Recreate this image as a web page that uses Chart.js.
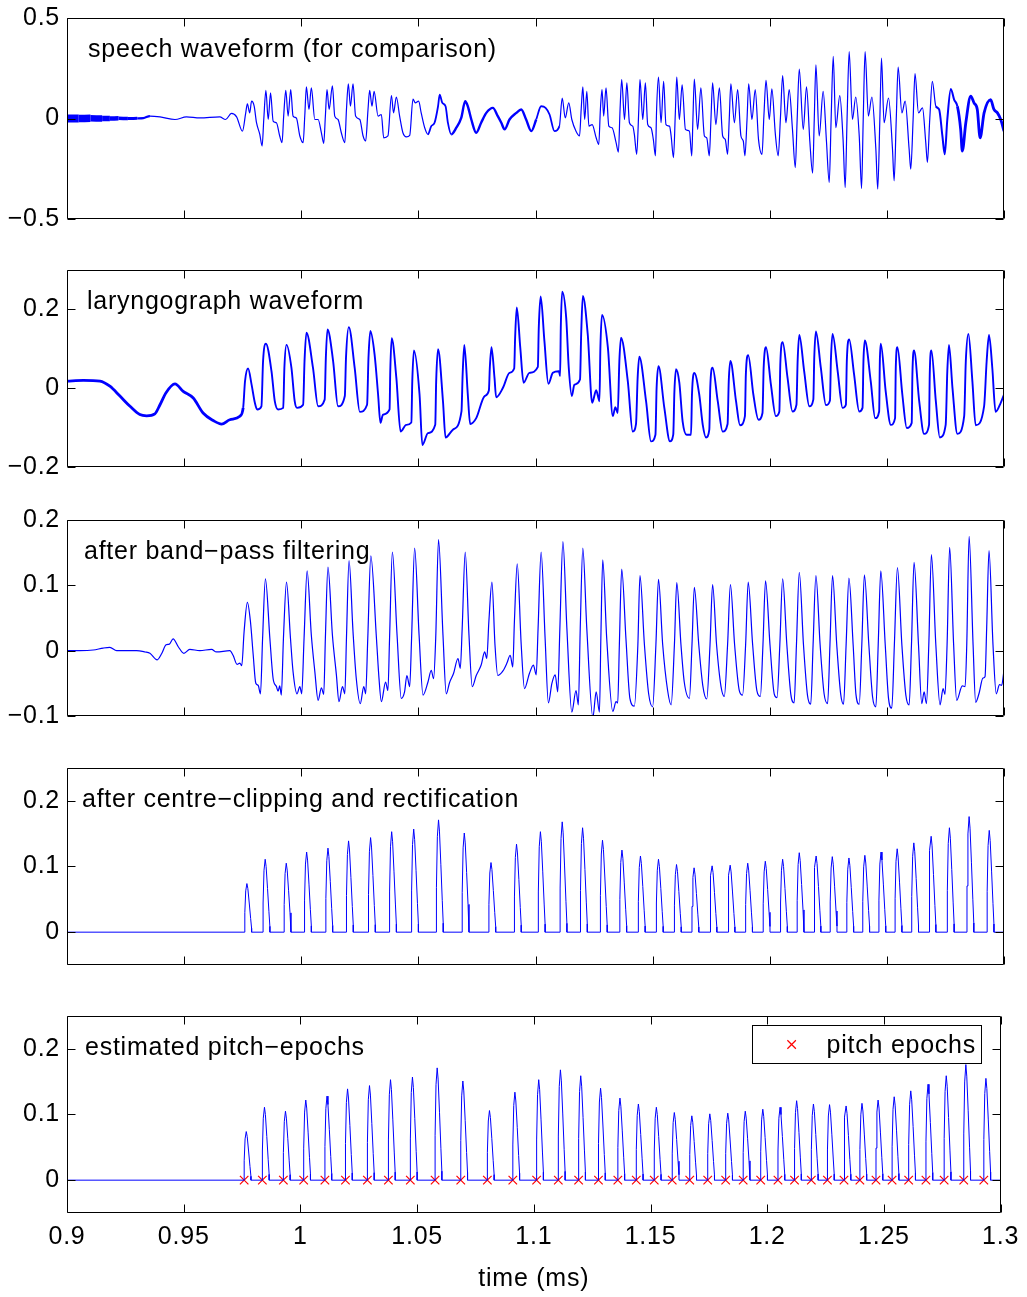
<!DOCTYPE html>
<html>
<head>
<meta charset="utf-8">
<title>Pitch-epoch estimation from the laryngograph signal</title>
<script src="https://cdn.jsdelivr.net/npm/chart.js@4.4.1/dist/chart.umd.min.js"></script>
<style>
  html, body { margin: 0; padding: 0; background: #fff; }
  #fig { position: relative; width: 1027px; height: 1297px; background: #fff; overflow: hidden; }
  #fig canvas { position: absolute; left: 0; }
</style>
</head>
<body>
<div id="fig"></div>
<script>
// ---------------------------------------------------------------------------
// Signals: [time, amplitude] vertices of each trace
// ---------------------------------------------------------------------------
const speechWave = [
  [0.9,0.0],[0.905,0.0],[0.91,0.001],[0.915,0.0],[0.9183,0.0],[0.922,0.001],[0.926,0.0],[0.93,0.001],[0.9326,0.002],
  [0.9354,0.012],[0.9397,0.008],[0.9461,-0.005],[0.9510,0.008],[0.9567,0.003],
  [0.9652,0.008],[0.9677,-0.005],[0.9702,0.025],[0.9724,0.008],[0.9749,-0.063],[0.9763,0.028],[0.9770,0.073],[0.9780,0.028],
  [0.9788,0.086],[0.9799,0.061],[0.9809,-0.021],[0.9823,-0.079],[0.9833,-0.137],[0.9840,-0.005],[0.9849,0.140],[0.9859,-0.005],
  [0.9869,0.127],[0.9880,-0.013],[0.9894,-0.021],[0.9908,-0.087],[0.9918,-0.120],[0.9925,0.012],[0.9934,0.140],[0.9944,0.012],
  [0.9955,0.144],[0.9965,0.012],[0.9979,0.003],[0.9994,-0.087],[1.0008,-0.120],[1.0015,0.012],[1.0022,0.157],[1.0033,0.045],
  [1.0043,0.152],[1.0058,-0.005],[1.0072,-0.005],[1.0086,-0.071],[1.0096,-0.124],[1.0103,0.012],[1.0110,0.144],[1.0119,0.045],
  [1.0133,0.163],[1.0143,0.012],[1.0157,-0.005],[1.0171,-0.071],[1.0186,-0.120],[1.0193,0.045],[1.0201,0.173],[1.0210,0.061],
  [1.0221,0.173],[1.0232,0.012],[1.0250,-0.005],[1.0264,-0.087],[1.0275,-0.112],[1.0285,0.045],[1.0292,0.140],[1.0302,0.061],
  [1.0311,0.135],[1.0328,0.012],[1.0342,0.020],[1.0352,-0.096],[1.0370,-0.087],[1.0385,0.114],[1.0394,0.028],[1.0406,0.107],
  [1.0420,0.012],[1.0434,-0.071],[1.0449,-0.091],[1.0463,-0.084],[1.0477,0.097],[1.0487,0.078],[1.0501,0.086],[1.0512,0.028],
  [1.0527,-0.046],[1.0541,-0.079],[1.0555,-0.038],[1.0569,-0.021],[1.0584,0.061],[1.0591,0.119],[1.0602,0.078],[1.0616,0.061],
  [1.0626,-0.021],[1.0640,-0.079],[1.0662,-0.046],[1.0683,0.003],[1.0700,0.086],[1.0711,0.061],[1.0726,-0.005],[1.0747,-0.071],
  [1.0768,-0.021],[1.0790,0.028],[1.0818,0.053],[1.0839,0.012],[1.0854,-0.021],[1.0868,-0.054],[1.0889,-0.005],[1.0918,0.028],
  [1.0939,0.045],[1.0960,-0.005],[1.0982,-0.063],[1.1003,-0.005],[1.1024,0.061],[1.1043,0.053],[1.1060,0.020],[1.1081,-0.063],
  [1.1102,-0.038],[1.1114,0.102],[1.1127,0.003],[1.1142,0.078],[1.1155,-0.005],[1.1173,-0.063],[1.1188,-0.087],[1.1195,0.045],
  [1.1202,0.157],[1.1210,-0.005],[1.1219,0.135],[1.1228,-0.038],[1.1242,-0.030],[1.1259,-0.096],[1.1270,-0.129],[1.1277,0.045],
  [1.1284,0.144],[1.1291,0.012],[1.1301,0.152],[1.1313,-0.038],[1.1327,-0.046],[1.1344,-0.120],[1.1354,-0.167],[1.1361,0.045],
  [1.1368,0.193],[1.1380,-0.005],[1.1390,0.177],[1.1401,-0.021],[1.1415,-0.038],[1.1422,-0.079],[1.1432,-0.178],[1.1441,0.045],
  [1.1446,0.193],[1.1458,-0.005],[1.1469,0.177],[1.1479,-0.030],[1.1493,-0.046],[1.1503,-0.104],[1.1512,-0.186],[1.1517,0.045],
  [1.1525,0.206],[1.1536,-0.021],[1.1547,0.185],[1.1557,-0.030],[1.1572,-0.038],[1.1579,-0.087],[1.1589,-0.195],[1.1597,0.028],
  [1.1603,0.206],[1.1614,-0.005],[1.1626,0.168],[1.1640,-0.054],[1.1657,-0.063],[1.1667,-0.186],[1.1672,-0.005],[1.1678,0.196],
  [1.1692,-0.054],[1.1706,0.152],[1.1721,-0.087],[1.1731,-0.096],[1.1742,-0.186],[1.1749,-0.005],[1.1756,0.177],[1.1770,-0.030],
  [1.1785,0.152],[1.1799,-0.087],[1.1810,-0.104],[1.1820,-0.178],[1.1827,-0.005],[1.1834,0.173],[1.1849,-0.021],[1.1863,0.144],
  [1.1877,-0.087],[1.1887,-0.112],[1.1894,-0.186],[1.1903,-0.005],[1.1910,0.173],[1.1924,-0.005],[1.1938,0.144],[1.1952,-0.104],
  [1.1967,-0.178],[1.1975,0.012],[1.1984,0.190],[1.1998,-0.005],[1.2009,0.147],[1.2024,-0.079],[1.2036,-0.186],[1.2046,0.012],
  [1.2055,0.213],[1.2069,-0.021],[1.2083,0.144],[1.2097,-0.054],[1.2109,-0.244],[1.2117,-0.005],[1.2126,0.246],[1.2143,-0.054],
  [1.2157,0.157],[1.2171,-0.112],[1.2183,-0.272],[1.2190,-0.005],[1.2197,0.267],[1.2211,-0.087],[1.2228,0.135],[1.2242,-0.112],
  [1.2254,-0.318],[1.2262,-0.005],[1.2271,0.309],[1.2282,-0.046],[1.2299,0.114],[1.2313,-0.104],[1.2322,-0.343],[1.2330,-0.005],
  [1.2339,0.333],[1.2353,-0.005],[1.2367,0.107],[1.2382,-0.087],[1.2392,-0.348],[1.2399,-0.005],[1.2407,0.333],[1.2421,0.012],
  [1.2436,0.107],[1.2453,-0.153],[1.2461,-0.351],[1.2470,-0.005],[1.2477,0.300],[1.2488,-0.021],[1.2507,0.102],[1.2524,-0.153],
  [1.2531,-0.310],[1.2540,-0.005],[1.2548,0.256],[1.2564,0.028],[1.2578,0.086],[1.2595,-0.153],[1.2602,-0.252],[1.2612,-0.005],
  [1.2620,0.223],[1.2635,0.028],[1.2652,0.053],[1.2666,-0.120],[1.2673,-0.219],[1.2683,-0.005],[1.2694,0.185],[1.2709,0.061],
  [1.2723,0.045],[1.2737,-0.087],[1.2747,-0.178],[1.2758,-0.005],[1.2773,0.147],[1.2787,0.094],[1.2801,0.061],[1.2815,-0.054],
  [1.2822,-0.162],[1.2837,-0.021],[1.2858,0.111],[1.2872,0.078],[1.2886,0.045],[1.2898,-0.096],[1.2915,0.028],[1.2943,0.094],
  [1.2957,0.045],[1.2972,0.028],[1.2986,-0.005],[1.3000,-0.063]
];

const larynxWave = [
  [0.9,0.018],[0.9070,0.020],[0.9141,0.018],[0.9183,0.005],[0.9226,-0.020],[0.9269,-0.046],[0.9311,-0.067],[0.9340,-0.070],
  [0.9375,-0.065],[0.9397,-0.042],[0.9422,-0.012],[0.9461,0.011],[0.9496,-0.008],[0.9539,-0.025],[0.9581,-0.063],[0.9624,-0.082],
  [0.9660,-0.091],[0.9695,-0.080],[0.9738,-0.071],[0.9752,-0.050],[0.9760,0.018],[0.9773,0.050],[0.9788,0.009],[0.9802,-0.037],
  [0.9812,-0.054],[0.9830,-0.046],[0.9837,0.069],[0.9849,0.113],[0.9873,0.043],[0.9887,-0.033],[0.9901,-0.054],[0.9923,-0.050],
  [0.9928,0.052],[0.9937,0.110],[0.9958,0.052],[0.9972,-0.033],[0.9982,-0.050],[1.0008,-0.042],[1.0014,0.069],[1.0022,0.141],
  [1.0050,0.052],[1.0072,-0.046],[1.0100,-0.029],[1.0105,0.077],[1.0112,0.149],[1.0136,0.069],[1.0157,-0.046],[1.0186,-0.020],
  [1.0191,0.077],[1.0203,0.155],[1.0228,0.052],[1.0250,-0.060],[1.0281,-0.042],[1.0287,0.077],[1.0295,0.145],[1.0313,0.086],
  [1.0328,-0.016],[1.0338,-0.088],[1.0349,-0.067],[1.0377,-0.054],[1.0380,0.043],[1.0386,0.127],[1.0406,0.026],[1.0424,-0.110],
  [1.0448,-0.093],[1.0470,-0.087],[1.0474,0.018],[1.0481,0.096],[1.0505,-0.016],[1.0517,-0.144],[1.0541,-0.114],[1.0572,-0.093],
  [1.0576,0.018],[1.0584,0.099],[1.0605,-0.033],[1.0616,-0.125],[1.0648,-0.105],[1.0684,-0.059],[1.0689,0.035],[1.0696,0.110],
  [1.0711,-0.016],[1.0721,-0.091],[1.0747,-0.076],[1.0783,-0.020],[1.0801,-0.006],[1.0805,0.052],[1.0812,0.104],[1.0825,0.026],
  [1.0832,-0.023],[1.0861,0.001],[1.0889,0.039],[1.0909,0.050],[1.0913,0.128],[1.0920,0.205],[1.0935,0.103],[1.0949,0.014],
  [1.0974,0.039],[1.1010,0.054],[1.1014,0.154],[1.1022,0.233],[1.1038,0.120],[1.1055,0.011],[1.1074,0.039],[1.1100,0.043],
  [1.1105,0.031],[1.1108,0.154],[1.1114,0.245],[1.1131,0.179],[1.1142,0.052],[1.1155,-0.020],[1.1166,0.009],[1.1190,0.022],
  [1.1195,0.137],[1.1202,0.234],[1.1223,0.137],[1.1242,-0.037],[1.1259,-0.005],[1.1273,-0.033],[1.1277,0.103],[1.1284,0.186],
  [1.1309,0.103],[1.1330,-0.071],[1.1341,-0.048],[1.1351,-0.063],[1.1358,0.069],[1.1365,0.128],[1.1394,0.018],[1.1415,-0.110],
  [1.1429,-0.091],[1.1436,0.026],[1.1443,0.080],[1.1472,-0.033],[1.1493,-0.135],[1.1512,-0.118],[1.1517,0.001],[1.1525,0.056],
  [1.1550,-0.050],[1.1574,-0.135],[1.1588,-0.118],[1.1593,-0.008],[1.1600,0.048],[1.1614,0.014],[1.1628,-0.084],[1.1645,-0.118],
  [1.1664,-0.118],[1.1668,-0.016],[1.1678,0.039],[1.1699,-0.016],[1.1714,-0.093],[1.1728,-0.125],[1.1742,-0.105],[1.1746,0.001],
  [1.1756,0.052],[1.1778,-0.033],[1.1799,-0.110],[1.1820,-0.091],[1.1825,0.018],[1.1832,0.069],[1.1856,-0.033],[1.1873,-0.094],
  [1.1894,-0.071],[1.1898,0.035],[1.1908,0.084],[1.1930,-0.016],[1.1952,-0.080],[1.1969,-0.063],[1.1974,0.052],[1.1984,0.104],
  [1.2005,0.009],[1.2026,-0.071],[1.2041,-0.059],[1.2045,0.060],[1.2055,0.117],[1.2076,0.026],[1.2097,-0.059],[1.2114,-0.042],
  [1.2119,0.069],[1.2126,0.135],[1.2147,0.043],[1.2169,-0.046],[1.2186,-0.029],[1.2190,0.077],[1.2197,0.144],[1.2218,0.052],
  [1.2240,-0.043],[1.2257,-0.031],[1.2261,0.069],[1.2268,0.138],[1.2290,0.043],[1.2311,-0.050],[1.2325,-0.042],[1.2329,0.069],
  [1.2339,0.124],[1.2360,0.035],[1.2382,-0.059],[1.2396,-0.050],[1.2400,0.069],[1.2406,0.121],[1.2431,0.018],[1.2450,-0.076],
  [1.2467,-0.059],[1.2470,0.069],[1.2474,0.113],[1.2495,-0.008],[1.2517,-0.093],[1.2535,-0.076],[1.2538,0.052],[1.2545,0.104],
  [1.2566,-0.016],[1.2585,-0.101],[1.2606,-0.088],[1.2609,0.035],[1.2616,0.096],[1.2638,-0.033],[1.2659,-0.116],[1.2680,-0.093],
  [1.2683,0.035],[1.2690,0.096],[1.2709,-0.033],[1.2726,-0.125],[1.2751,-0.093],[1.2758,0.043],[1.2765,0.110],[1.2780,0.001],
  [1.2801,-0.116],[1.2830,-0.071],[1.2837,0.069],[1.2848,0.138],[1.2865,0.018],[1.2879,-0.094],[1.2915,-0.046],[1.2926,0.069],
  [1.2936,0.135],[1.2950,0.052],[1.2964,-0.060],[1.2986,-0.037],[1.3,-0.016]
];

const bandpassWave = [
  [0.9,0.0],[0.9055,0.0],[0.9112,0.001],[0.9155,0.004],[0.9183,0.005],[0.9212,0.0],[0.9297,0.0],[0.9333,-0.002],
  [0.9354,-0.004],[0.9385,-0.014],[0.9405,-0.004],[0.9423,0.009],[0.9437,0.010],[0.9453,0.018],[0.9475,0.006],[0.9499,-0.004],
  [0.9524,0.002],[0.9567,0.0],[0.9617,0.002],[0.9638,-0.002],[0.9695,0.0],[0.9709,-0.007],[0.9726,-0.021],[0.9738,-0.019],
  [0.9746,-0.023],[0.9756,0.029],[0.9770,0.074],[0.9783,0.045],[0.9795,-0.007],[0.9806,-0.050],[0.9816,-0.053],[0.9826,-0.066],
  [0.9835,0.019],[0.9847,0.110],[0.9866,0.019],[0.9880,-0.043],[0.9894,-0.055],[0.9901,-0.062],[0.9908,-0.054],[0.9915,-0.068],
  [0.9924,0.019],[0.9937,0.105],[0.9954,0.019],[0.9965,-0.032],[0.9982,-0.066],[0.9994,-0.055],[1.0002,-0.066],[1.0012,0.019],
  [1.0025,0.122],[1.0043,0.024],[1.0058,-0.032],[1.0072,-0.076],[1.0086,-0.057],[1.0096,-0.067],[1.0103,0.019],[1.0114,0.128],
  [1.0133,0.024],[1.0150,-0.037],[1.0161,-0.078],[1.0176,-0.055],[1.0186,-0.066],[1.0193,0.019],[1.0204,0.138],[1.0221,0.029],
  [1.0235,-0.043],[1.0252,-0.081],[1.0267,-0.055],[1.0275,-0.066],[1.0284,0.019],[1.0297,0.145],[1.0321,0.019],[1.0332,-0.043],
  [1.0342,-0.078],[1.0360,-0.048],[1.0370,-0.061],[1.0377,0.019],[1.0389,0.151],[1.0409,0.024],[1.0427,-0.073],[1.0441,-0.063],
  [1.0451,-0.038],[1.0463,-0.055],[1.0471,0.019],[1.0484,0.157],[1.0503,0.024],[1.0520,-0.068],[1.0541,-0.048],[1.0555,-0.030],
  [1.0565,-0.043],[1.0574,0.019],[1.0586,0.170],[1.0605,0.024],[1.0619,-0.066],[1.0633,-0.049],[1.0650,-0.035],[1.0669,-0.012],
  [1.0679,-0.027],[1.0687,0.034],[1.0700,0.151],[1.0716,0.024],[1.0730,-0.055],[1.0747,-0.038],[1.0768,-0.022],[1.0783,-0.002],
  [1.0792,-0.012],[1.0801,0.045],[1.0814,0.105],[1.0827,0.009],[1.0839,-0.038],[1.0861,-0.031],[1.0878,-0.019],[1.0892,-0.007],
  [1.0903,-0.025],[1.0910,0.045],[1.0922,0.133],[1.0939,0.009],[1.0953,-0.058],[1.0974,-0.035],[1.0991,-0.022],[1.1003,-0.037],
  [1.1011,0.034],[1.1024,0.151],[1.1041,0.019],[1.1055,-0.080],[1.1070,-0.050],[1.1084,-0.037],[1.1095,-0.063],[1.1104,0.034],
  [1.1117,0.167],[1.1134,0.034],[1.1155,-0.094],[1.1173,-0.061],[1.1183,-0.083],[1.1191,0.034],[1.1202,0.157],[1.1219,0.034],
  [1.1245,-0.102],[1.1259,-0.063],[1.1273,-0.094],[1.1279,0.019],[1.1287,0.139],[1.1304,0.019],[1.1330,-0.093],[1.1344,-0.078],
  [1.1351,-0.080],[1.1358,0.009],[1.1368,0.125],[1.1386,0.019],[1.1403,-0.073],[1.1422,-0.085],[1.1437,0.009],[1.1446,0.115],
  [1.1465,0.009],[1.1483,-0.066],[1.1500,-0.086],[1.1514,0.009],[1.1525,0.109],[1.1543,0.009],[1.1564,-0.061],[1.1579,-0.083],
  [1.1593,0.009],[1.1603,0.104],[1.1621,0.009],[1.1635,-0.048],[1.1657,-0.073],[1.1668,0.009],[1.1678,0.097],[1.1697,0.009],
  [1.1714,-0.053],[1.1731,-0.074],[1.1745,0.009],[1.1756,0.101],[1.1773,0.009],[1.1792,-0.055],[1.1806,-0.070],[1.1820,0.009],
  [1.1832,0.101],[1.1850,0.009],[1.1870,-0.061],[1.1884,-0.068],[1.1897,0.009],[1.1908,0.105],[1.1927,0.009],[1.1945,-0.061],
  [1.1960,-0.070],[1.1971,0.009],[1.1982,0.107],[1.2001,0.009],[1.2019,-0.066],[1.2031,-0.072],[1.2043,0.009],[1.2055,0.110],
  [1.2073,0.009],[1.2090,-0.067],[1.2104,-0.080],[1.2114,0.009],[1.2126,0.120],[1.2144,0.009],[1.2161,-0.068],[1.2175,-0.082],
  [1.2185,0.009],[1.2197,0.115],[1.2215,0.009],[1.2232,-0.066],[1.2247,-0.081],[1.2257,0.009],[1.2268,0.115],[1.2286,0.009],
  [1.2303,-0.067],[1.2315,-0.082],[1.2326,0.009],[1.2338,0.111],[1.2356,0.009],[1.2368,-0.067],[1.2382,-0.082],[1.2393,0.009],
  [1.2404,0.116],[1.2423,0.009],[1.2439,-0.071],[1.2453,-0.086],[1.2463,0.009],[1.2474,0.122],[1.2493,0.009],[1.2507,-0.073],
  [1.2521,-0.088],[1.2532,0.009],[1.2545,0.127],[1.2564,0.009],[1.2581,-0.068],[1.2595,-0.083],[1.2605,0.009],[1.2616,0.135],
  [1.2635,0.009],[1.2649,-0.081],[1.2659,-0.063],[1.2669,-0.081],[1.2679,0.009],[1.2690,0.147],[1.2709,0.009],[1.2727,-0.083],
  [1.2740,-0.058],[1.2748,-0.067],[1.2757,0.009],[1.2768,0.158],[1.2785,0.009],[1.2798,-0.076],[1.2822,-0.054],[1.2834,-0.055],
  [1.2841,0.009],[1.2851,0.175],[1.2868,0.009],[1.2879,-0.079],[1.2893,-0.066],[1.2910,-0.042],[1.2919,-0.040],[1.2926,0.034],
  [1.2936,0.153],[1.2953,0.009],[1.2967,-0.066],[1.2981,-0.052],[1.2990,-0.053],[1.3,-0.030]
];

// Pitch epochs (onset of each clipped pulse) and the pulse peak heights
const epochTimes = [
  0.9759,0.9837,0.9927,1.0014,1.0105,1.0193,1.0287,1.0377,1.0471,1.0577,1.0687,1.0801,1.0910,
  1.1012,1.1105,1.1192,1.1277,1.1360,1.1439,1.1516,1.1593,1.1668,1.1745,1.1822,1.1897,1.1972,
  1.2046,1.2117,1.2189,1.2258,1.2329,1.2397,1.2466,1.2535,1.2606,1.2680,1.2758,1.2842,1.2928
];
const epochPeaks = [
  0.074,0.111,0.105,0.122,0.128,0.139,0.144,0.153,0.157,0.171,0.151,0.106,0.134,
  0.153,0.168,0.159,0.140,0.125,0.116,0.111,0.103,0.098,0.101,0.102,0.105,0.108,
  0.111,0.121,0.116,0.115,0.113,0.117,0.122,0.127,0.136,0.146,0.159,0.176,0.155
];
// Profile of one centre-clipped pulse: [seconds after onset, fraction of peak]
const clipPulseShape = [
  [0,0],[0.00001,0.4],[0.0004,0.85],[0.0009,1],[0.0013,0.9],[0.0019,0.6],[0.0025,0.28],[0.0029,0.08],[0.00291,0]
];

// Axes
const xRange = [0.9, 1.3];
const xTickValues = [0.9, 0.95, 1, 1.05, 1.1, 1.15, 1.2, 1.25, 1.3];
const xTickLabels = ['0.9', '0.95', '1', '1.05', '1.1', '1.15', '1.2', '1.25', '1.3'];
const xTitle = 'time (ms)';

const panelTitles = [
  'speech waveform (for comparison)',
  'laryngograph waveform',
  'after band\u2212pass filtering',
  'after centre\u2212clipping and rectification',
  'estimated pitch\u2212epochs'
];
const yRanges = [[-0.5, 0.5], [-0.2, 0.3], [-0.1, 0.2], [-0.05, 0.25], [-0.05, 0.25]];
const yTickValues = [[-0.5, 0, 0.5], [-0.2, 0, 0.2], [-0.1, 0, 0.1, 0.2], [0, 0.1, 0.2], [0, 0.1, 0.2]];
const yTickLabels = [['\u22120.5', '0', '0.5'], ['\u22120.2', '0', '0.2'], ['\u22120.1', '0', '0.1', '0.2'], ['0', '0.1', '0.2'], ['0', '0.1', '0.2']];
const legendLabel = 'pitch epochs';

// ---------------------------------------------------------------------------
// Layout and styling
// ---------------------------------------------------------------------------
const FIG_W = 1027, FIG_H = 1297;
const PLOT_LEFT = 67, PLOT_RIGHT = 1004;
const panelFrames = [[18, 219], [270, 467], [520, 716], [768, 965], [1016, 1213]];
const MARGIN = 16;
const FONT = '"Liberation Sans", Arial, Helvetica, sans-serif';
const FONT_PX = 25;
const SPACING = '0.75px';
const BLUE = '#0000ff', RED = '#ff0000';
const TICK_LEN = 8;
const MARKER_R = 6;
const titleOffsets = [[21, 39], [20, 39], [17, 39], [15, 39], [18, 39]];

// thicker stroke where the recording is noisy: [from, to, width px]
const speechNoise = [[0.9, 0.905, 8], [0.905, 0.91, 7.5], [0.91, 0.915, 6.5], [0.915, 0.9183, 5.5], [0.9183, 0.922, 4.5],
                     [0.922, 0.926, 3.5], [0.926, 0.93, 3], [0.93, 0.9354, 2.2],
                     [1.053, 1.063, 1.8], [1.063, 1.1, 2.4], [1.1, 1.11, 1.8], [1.27, 1.28, 2], [1.28, 1.3, 2.8]];
const larynxNoise = [[0.9, 0.975, 2.8]];

function widthAt(bands, t, base) {
  for (const [a, b, w] of bands) if (t >= a && t < b) return w;
  return base;
}
const toPoints = pairs => pairs.map(([x, y]) => ({ x, y }));

function clippedSignal() {
  const pts = [{ x: xRange[0], y: 0 }];
  epochTimes.forEach((t, i) => {
    clipPulseShape.forEach(([dt, f]) => pts.push({ x: t + dt, y: epochPeaks[i] * f }));
  });
  pts.push({ x: xRange[1], y: 0 });
  return pts;
}

// Box, inward tick marks, in-axes caption and legend
const framePlugin = {
  id: 'frame',
  beforeDraw(chart) { chart.ctx.letterSpacing = SPACING; },
  afterDatasetsDraw(chart, args, opts) {
    const { ctx, chartArea: a, scales: { x, y } } = chart;
    ctx.save();
    const L = Math.round(a.left) + 0.5, R = Math.round(a.right) - 0.5;
    const T = Math.round(a.top) + 0.5, B = Math.round(a.bottom) - 0.5;
    ctx.strokeStyle = '#000';
    ctx.lineWidth = 1;
    ctx.beginPath();
    ctx.rect(L, T, R - L, B - T);
    x.ticks.forEach(tk => {
      const px = Math.round(x.getPixelForValue(tk.value)) + 0.5;
      ctx.moveTo(px, B); ctx.lineTo(px, B - TICK_LEN);
      ctx.moveTo(px, T); ctx.lineTo(px, T + TICK_LEN);
    });
    y.ticks.forEach(tk => {
      const py = Math.round(y.getPixelForValue(tk.value)) + 0.5;
      ctx.moveTo(L, py); ctx.lineTo(L + TICK_LEN, py);
      ctx.moveTo(R, py); ctx.lineTo(R - TICK_LEN, py);
    });
    ctx.stroke();

    ctx.fillStyle = '#000';
    ctx.font = `${FONT_PX}px ${FONT}`;
    ctx.letterSpacing = SPACING;
    ctx.textAlign = 'left';
    ctx.textBaseline = 'alphabetic';
    ctx.fillText(opts.text, a.left + opts.dx, a.top + opts.baseline);

    if (opts.legend) {
      const bx0 = Math.round(a.right) - 249 + 0.5, bx1 = Math.round(a.right) - 20 + 0.5;
      const by0 = Math.round(a.top) + 9 + 0.5, by1 = Math.round(a.top) + 47 + 0.5;
      ctx.fillStyle = '#fff';
      ctx.fillRect(bx0, by0, bx1 - bx0, by1 - by0);
      ctx.strokeStyle = '#000';
      ctx.strokeRect(bx0, by0, bx1 - bx0, by1 - by0);
      const mx = a.right - 209, my = a.top + 28.5, r = MARKER_R * Math.SQRT1_2;
      ctx.strokeStyle = RED;
      ctx.lineWidth = 1.2;
      ctx.beginPath();
      ctx.moveTo(mx - r, my - r); ctx.lineTo(mx + r, my + r);
      ctx.moveTo(mx - r, my + r); ctx.lineTo(mx + r, my - r);
      ctx.stroke();
      ctx.fillStyle = '#000';
      ctx.fillText(opts.legend, a.right - 174, a.top + 37);
    }
    ctx.restore();
  }
};

const tickFont = { family: FONT, size: FONT_PX, lineHeight: 1.2 };

function xScale(showLabels) {
  return {
    type: 'linear', min: xRange[0], max: xRange[1],
    grid: { display: false, drawTicks: false }, border: { display: false },
    afterBuildTicks: s => { s.ticks = xTickValues.map(v => ({ value: v })); },
    ticks: { display: showLabels, autoSkip: false, maxRotation: 0, padding: 9, color: '#000', font: tickFont,
             callback: (v, i) => xTickLabels[i] },
    title: { display: showLabels, text: xTitle, color: '#000', font: tickFont, padding: { top: 0, bottom: 3 } },
    afterFit: s => { s.height = showLabels ? FIG_H - panelFrames[4][1] : 0; }
  };
}
function yScale(i) {
  return {
    type: 'linear', min: yRanges[i][0], max: yRanges[i][1],
    grid: { display: false, drawTicks: false }, border: { display: false },
    afterBuildTicks: s => { s.ticks = yTickValues[i].map(v => ({ value: v })); },
    ticks: { autoSkip: false, padding: 7, color: '#000', font: tickFont, callback: (v, k) => yTickLabels[i][k] },
    afterFit: s => { s.width = PLOT_LEFT; }
  };
}

function lineSet(points, width, opts) {
  return Object.assign({
    data: points, borderColor: BLUE, borderWidth: width, pointRadius: 0, pointHitRadius: 0,
    fill: false, cubicInterpolationMode: 'monotone'
  }, opts || {});
}

const clipped = clippedSignal();
function panelDatasets(i) {
  switch (i) {
    case 0: return [lineSet(toPoints(speechWave), 1.2, { segment: { borderWidth: c => widthAt(speechNoise, c.p0.parsed.x, 1.2) } })];
    case 1: return [lineSet(toPoints(larynxWave), 1.9, { segment: { borderWidth: c => widthAt(larynxNoise, c.p0.parsed.x, 1.9) } })];
    case 2: return [lineSet(toPoints(bandpassWave), 1.2)];
    case 3: return [lineSet(clipped, 1, { cubicInterpolationMode: 'default', tension: 0 })];
    default: return [
      lineSet(clipped, 1, { cubicInterpolationMode: 'default', tension: 0 }),
      { data: epochTimes.map(t => ({ x: t, y: 0 })), showLine: false, pointStyle: 'crossRot', pointRadius: MARKER_R,
        pointBorderColor: RED, pointBackgroundColor: RED, pointBorderWidth: 1.2, borderColor: RED, pointHitRadius: 0 }
    ];
  }
}

function panelConfig(i, last) {
  return {
    type: 'line',
    data: { datasets: panelDatasets(i) },
    options: {
      responsive: false, maintainAspectRatio: false, animation: false, events: [], devicePixelRatio: 1,
      layout: { autoPadding: false, padding: { left: 0, right: FIG_W - PLOT_RIGHT, top: MARGIN, bottom: last ? 0 : MARGIN } },
      scales: { x: xScale(last), y: yScale(i) },
      plugins: {
        legend: { display: false }, tooltip: { enabled: false },
        frame: { text: panelTitles[i], dx: titleOffsets[i][0], baseline: titleOffsets[i][1], legend: last ? legendLabel : null }
      }
    },
    plugins: [framePlugin]
  };
}

// One canvas per panel; the canvas is nudged until its plot box sits on the panel frame
const fig = document.getElementById('fig');
panelFrames.forEach(([top, bottom], i) => {
  const last = i === panelFrames.length - 1;
  const canvas = document.createElement('canvas');
  fig.appendChild(canvas);
  let cTop = top - MARGIN;
  let cH = last ? FIG_H - cTop : (bottom - top) + 2 * MARGIN;
  const make = () => {
    canvas.width = FIG_W; canvas.height = cH;
    canvas.style.width = FIG_W + 'px'; canvas.style.height = cH + 'px';
    canvas.style.top = cTop + 'px';
    return new Chart(canvas, panelConfig(i, last));
  };
  let chart = make();
  for (let k = 0; k < 3; k++) {
    const a = chart.chartArea;
    const errTop = (cTop + a.top) - top;
    const errBottom = bottom - (cTop + a.bottom);
    if (Math.abs(errTop) < 0.5 && Math.abs(errBottom) < 0.5) break;
    chart.destroy();
    cTop = Math.round(cTop - errTop);
    cH = Math.round(cH + errTop + errBottom);
    chart = make();
  }
});
</script>
</body>
</html>
